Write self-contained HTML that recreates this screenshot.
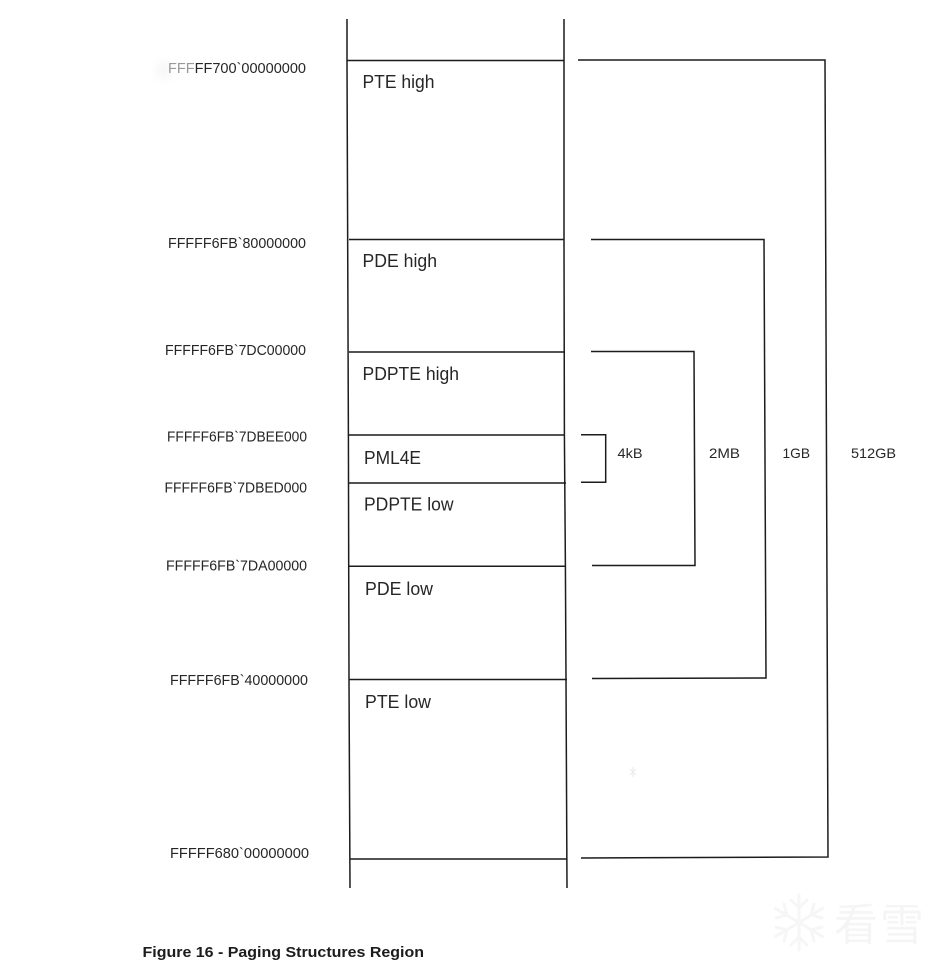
<!DOCTYPE html>
<html>
<head>
<meta charset="utf-8">
<style>
html,body{margin:0;padding:0;background:#fff;}
svg{display:block;}
text{font-family:"Liberation Sans",sans-serif;fill:#262626;}
</style>
</head>
<body>
<svg width="944" height="975" viewBox="0 0 944 975" xmlns="http://www.w3.org/2000/svg">
<defs>
<filter id="scan" x="-2%" y="-2%" width="104%" height="104%"><feGaussianBlur stdDeviation="0.3"/></filter>
<filter id="smudge" x="-50%" y="-50%" width="200%" height="200%"><feGaussianBlur stdDeviation="5"/></filter>
</defs>
<ellipse cx="164" cy="70" rx="7" ry="9" fill="#f5f5f5" filter="url(#smudge)"/>
<g filter="url(#scan)">
<g stroke="#1c1c1c" stroke-width="1.5" fill="none">
<path d="M347 19L347 61L348.400 435L348.700 566L349 680L350 888"/>
<path d="M564 19L564 240L564.400 435L565.400 566L566 680L567 888"/>
<path d="M347 60.500L564 60.500"/>
<path d="M349 239.500L564 239.500"/>
<path d="M349 352L565 352"/>
<path d="M349 435L565 435"/>
<path d="M349 483L566 483"/>
<path d="M349 566.300L566 566.300"/>
<path d="M349 679.500L567 679.500"/>
<path d="M350 859L567 859"/>
<path d="M578 60L825 60L828 857L581 858"/>
<path d="M591 239.500L764 239.500L766 678L592 678.500"/>
<path d="M591 351.500L694 351.500L695 565.500L592 565.500"/>
<path d="M581 434.800L605.700 434.800L605.700 482.300L581 482.300"/>
</g>
<g font-size="14.500">
<text x="168" y="73" textLength="138" lengthAdjust="spacingAndGlyphs"><tspan style="fill:#999">FFF</tspan>FF700`00000000</text>
<text x="168" y="248" textLength="138" lengthAdjust="spacingAndGlyphs">FFFFF6FB`80000000</text>
<text x="165" y="355" textLength="141" lengthAdjust="spacingAndGlyphs">FFFFF6FB`7DC00000</text>
<text x="167" y="441.500" textLength="140" lengthAdjust="spacingAndGlyphs">FFFFF6FB`7DBEE000</text>
<text x="164.500" y="492.500" textLength="142.500" lengthAdjust="spacingAndGlyphs">FFFFF6FB`7DBED000</text>
<text x="166" y="570.500" textLength="141" lengthAdjust="spacingAndGlyphs">FFFFF6FB`7DA00000</text>
<text x="170" y="685" textLength="138" lengthAdjust="spacingAndGlyphs">FFFFF6FB`40000000</text>
<text x="170" y="858" textLength="139" lengthAdjust="spacingAndGlyphs">FFFFF680`00000000</text>
</g>
<g font-size="18">
<text x="362.500" y="88" textLength="72" lengthAdjust="spacingAndGlyphs">PTE high</text>
<text x="362.500" y="267" textLength="74.500" lengthAdjust="spacingAndGlyphs">PDE high</text>
<text x="362.500" y="380" textLength="96.500" lengthAdjust="spacingAndGlyphs">PDPTE high</text>
<text x="364" y="464" textLength="57" lengthAdjust="spacingAndGlyphs">PML4E</text>
<text x="364" y="510.500" textLength="89.500" lengthAdjust="spacingAndGlyphs">PDPTE low</text>
<text x="365" y="595" textLength="68" lengthAdjust="spacingAndGlyphs">PDE low</text>
<text x="365" y="708" textLength="66" lengthAdjust="spacingAndGlyphs">PTE low</text>
</g>
<g font-size="14">
<text x="617.500" y="458" textLength="25" lengthAdjust="spacingAndGlyphs">4kB</text>
<text x="709" y="458" textLength="31" lengthAdjust="spacingAndGlyphs">2MB</text>
<text x="782.500" y="458" textLength="27.500" lengthAdjust="spacingAndGlyphs">1GB</text>
<text x="851" y="458" textLength="45" lengthAdjust="spacingAndGlyphs">512GB</text>
</g>
<text x="142.500" y="957" font-size="15" font-weight="bold" textLength="281.500" lengthAdjust="spacingAndGlyphs" style="fill:#1a1a1a">Figure 16 - Paging Structures Region</text>
</g>
<g stroke="#dddddd" stroke-width="1" opacity="0.6">
<path d="M630 769L636 775M636 769L630 775M633 767L633 777"/>
</g>
<g stroke="#f6f6f6" stroke-width="3" fill="none" stroke-linecap="round">
<path d="M799 895L799 950"/>
<path d="M775.500 908.500L822.500 936.500"/>
<path d="M775.500 936.500L822.500 908.500"/>
<path d="M791 900L799 908L807 900M791 945L799 937L807 945"/>
<path d="M776 918L787 915L784 904M822 918L811 915L814 904"/>
<path d="M776 927L787 930L784 941M822 927L811 930L814 941"/>
</g>
<text x="834" y="940" font-size="44" textLength="90" style="fill:#f5f5f5;font-family:'Liberation Sans','Noto Sans CJK SC',sans-serif">看雪</text>
</svg>
</body>
</html>
